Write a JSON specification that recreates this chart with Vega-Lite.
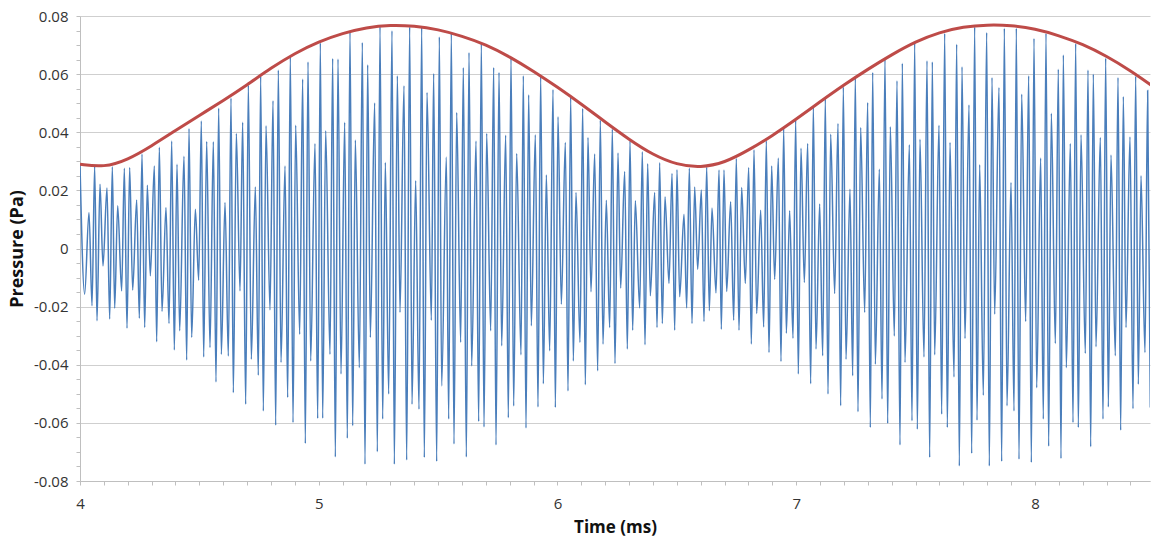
{
  "$schema": "https://vega.github.io/schema/vega-lite/v6.json",
  "width": 1070,
  "height": 465,
  "autosize": {"type": "none"},
  "padding": {"left": 80, "top": 16, "right": 1, "bottom": 61},
  "background": "white",
  "config": {
    "view": {"stroke": null},
    "font": "Open Sans"
  },
  "datasets": {
    "signal": [
      {"t":4.0,"p":0.029},{"t":4.0195,"p":-0.0157},{"t":4.0377,"p":0.0124},{"t":4.0503,"p":-0.0197},{"t":4.0614,"p":0.0284},{"t":4.0712,"p":-0.0249},{"t":4.0838,"p":0.0221},{"t":4.0963,"p":-0.006},{"t":4.1131,"p":0.0208},{"t":4.1243,"p":-0.0243},{"t":4.1354,"p":0.0281},{"t":4.1452,"p":-0.0206},{"t":4.1578,"p":0.0147},{"t":4.1745,"p":-0.0146},{"t":4.1857,"p":0.0276},{"t":4.1969,"p":-0.0274},{"t":4.208,"p":0.0279},{"t":4.2206,"p":-0.0143},{"t":4.2374,"p":0.0167},{"t":4.2485,"p":-0.024},{"t":4.2597,"p":0.0325},{"t":4.2709,"p":-0.0272},{"t":4.282,"p":0.0218},{"t":4.2946,"p":-0.0094},{"t":4.3114,"p":0.0284},{"t":4.3211,"p":-0.0321},{"t":4.3323,"p":0.0348},{"t":4.3435,"p":-0.0217},{"t":4.3602,"p":0.0141},{"t":4.3728,"p":-0.0258},{"t":4.384,"p":0.037},{"t":4.3951,"p":-0.0349},{"t":4.4063,"p":0.029},{"t":4.4175,"p":-0.0283},{"t":4.4356,"p":0.0317},{"t":4.4468,"p":-0.0384},{"t":4.4566,"p":0.0413},{"t":4.4677,"p":-0.0306},{"t":4.4831,"p":0.0135},{"t":4.4971,"p":-0.0109},{"t":4.5082,"p":0.0439},{"t":4.518,"p":-0.0373},{"t":4.5306,"p":0.0368},{"t":4.5445,"p":-0.0341},{"t":4.5585,"p":0.0367},{"t":4.5696,"p":-0.0459},{"t":4.5808,"p":0.0483},{"t":4.592,"p":-0.0364},{"t":4.6074,"p":0.0158},{"t":4.6213,"p":-0.037},{"t":4.6325,"p":0.0518},{"t":4.6422,"p":-0.0496},{"t":4.6548,"p":0.0396},{"t":4.6702,"p":-0.0146},
      {"t":4.6813,"p":0.0434},{"t":4.6939,"p":-0.0536},{"t":4.7051,"p":0.0562},{"t":4.7176,"p":-0.0381},{"t":4.7344,"p":0.0212},{"t":4.7469,"p":-0.0436},{"t":4.7567,"p":0.0593},{"t":4.7679,"p":-0.0559},{"t":4.7791,"p":0.0422},{"t":4.7958,"p":-0.0212},{"t":4.8084,"p":0.0508},{"t":4.8196,"p":-0.0608},{"t":4.8307,"p":0.0614},{"t":4.8419,"p":-0.0392},{"t":4.8587,"p":0.0284},{"t":4.8698,"p":-0.0513},{"t":4.881,"p":0.0664},{"t":4.8922,"p":-0.0599},{"t":4.9033,"p":0.0424},{"t":4.9201,"p":-0.0295},{"t":4.9326,"p":0.0583},{"t":4.9438,"p":-0.0671},{"t":4.955,"p":0.0642},{"t":4.9662,"p":-0.0387},{"t":4.9843,"p":0.0361},{"t":4.9955,"p":-0.0585},{"t":5.0067,"p":0.0708},{"t":5.0164,"p":-0.0584},{"t":5.029,"p":0.0405},{"t":5.0471,"p":-0.0364},{"t":5.0583,"p":0.0654},{"t":5.0695,"p":-0.0717},{"t":5.0806,"p":0.0652},{"t":5.0932,"p":-0.0432},{"t":5.1086,"p":0.0434},{"t":5.1197,"p":-0.0653},{"t":5.1309,"p":0.0748},{"t":5.1421,"p":-0.061},{"t":5.1533,"p":0.0373},{"t":5.17,"p":-0.041},{"t":5.1826,"p":0.0709},{"t":5.1937,"p":-0.0742},{"t":5.2049,"p":0.0632},{"t":5.2161,"p":-0.0306},{"t":5.2342,"p":0.0501},{"t":5.2454,"p":-0.0699},{"t":5.2566,"p":0.0764},{"t":5.2677,"p":-0.0587},{"t":5.2789,"p":0.0296},{"t":5.2929,"p":-0.0501},{"t":5.3068,"p":0.0749},{"t":5.3166,"p":-0.0742},{"t":5.3292,"p":0.0594},
      {"t":5.3403,"p":-0.022},{"t":5.3571,"p":0.056},{"t":5.3682,"p":-0.0728},{"t":5.3808,"p":0.0763},{"t":5.3906,"p":-0.0536},{"t":5.4059,"p":0.0233},{"t":5.4199,"p":-0.0553},{"t":5.4311,"p":0.0763},{"t":5.4422,"p":-0.0719},{"t":5.4534,"p":0.0537},{"t":5.4716,"p":-0.0247},{"t":5.4813,"p":0.0602},{"t":5.4939,"p":-0.0733},{"t":5.5051,"p":0.0728},{"t":5.5148,"p":-0.0473},{"t":5.5344,"p":0.0315},{"t":5.5442,"p":-0.0587},{"t":5.5553,"p":0.0743},{"t":5.5665,"p":-0.0673},{"t":5.5777,"p":0.0468},{"t":5.5944,"p":-0.0323},{"t":5.6056,"p":0.0623},{"t":5.6182,"p":-0.0717},{"t":5.6293,"p":0.0674},{"t":5.6405,"p":-0.0404},{"t":5.6587,"p":0.037},{"t":5.6698,"p":-0.0595},{"t":5.681,"p":0.0708},{"t":5.6922,"p":-0.0614},{"t":5.7033,"p":0.0396},{"t":5.7201,"p":-0.0283},{"t":5.7327,"p":0.0623},{"t":5.7424,"p":-0.0676},{"t":5.755,"p":0.0606},{"t":5.7662,"p":-0.0335},{"t":5.7829,"p":0.039},{"t":5.7941,"p":-0.0582},{"t":5.8053,"p":0.0658},{"t":5.8164,"p":-0.0542},{"t":5.829,"p":0.0327},{"t":5.8471,"p":-0.0366},{"t":5.8569,"p":0.0594},{"t":5.8681,"p":-0.0618},{"t":5.8792,"p":0.0529},{"t":5.8904,"p":-0.0266},{"t":5.9072,"p":0.0391},{"t":5.9183,"p":-0.0545},{"t":5.9295,"p":0.0594},{"t":5.9407,"p":-0.0465},{"t":5.9533,"p":0.0253},{"t":5.9672,"p":-0.0352},{"t":5.9812,"p":0.0547},{"t":5.991,"p":-0.0547},{"t":6.0021,"p":0.0453},
      {"t":6.0161,"p":-0.0192},{"t":6.0328,"p":0.0365},{"t":6.044,"p":-0.049},{"t":6.0552,"p":0.052},{"t":6.0663,"p":-0.0387},{"t":6.0775,"p":0.0193},{"t":6.0942,"p":-0.0323},{"t":6.1054,"p":0.0482},{"t":6.1166,"p":-0.0469},{"t":6.1277,"p":0.0382},{"t":6.1403,"p":-0.0149},{"t":6.1557,"p":0.0325},{"t":6.1682,"p":-0.0421},{"t":6.1794,"p":0.0442},{"t":6.1906,"p":-0.0329},{"t":6.2045,"p":0.0166},{"t":6.2185,"p":-0.0272},{"t":6.2297,"p":0.0411},{"t":6.2408,"p":-0.0396},{"t":6.2534,"p":0.0329},{"t":6.2646,"p":-0.0136},{"t":6.2813,"p":0.0265},{"t":6.2925,"p":-0.0346},{"t":6.3037,"p":0.0371},{"t":6.3148,"p":-0.0281},{"t":6.326,"p":0.0164},{"t":6.3442,"p":-0.0205},{"t":6.3553,"p":0.0333},{"t":6.3665,"p":-0.0331},{"t":6.3777,"p":0.0292},{"t":6.3888,"p":-0.0163},{"t":6.407,"p":0.0193},{"t":6.4168,"p":-0.0272},{"t":6.4279,"p":0.0295},{"t":6.4391,"p":-0.0258},{"t":6.4503,"p":0.0178},{"t":6.467,"p":-0.012},{"t":6.4796,"p":0.0258},{"t":6.4908,"p":-0.0281},{"t":6.5005,"p":0.0271},{"t":6.5117,"p":-0.0166},{"t":6.5299,"p":0.0118},{"t":6.541,"p":-0.0205},{"t":6.5522,"p":0.0276},{"t":6.5634,"p":-0.0258},{"t":6.5745,"p":0.0212},{"t":6.5871,"p":-0.0071},{"t":6.6025,"p":0.0201},{"t":6.6136,"p":-0.0251},{"t":6.6248,"p":0.028},{"t":6.636,"p":-0.0214},{"t":6.6471,"p":0.0139},{"t":6.6639,"p":-0.0153},{"t":6.6765,"p":0.027},
      {"t":6.6862,"p":-0.0278},{"t":6.6974,"p":0.027},{"t":6.7086,"p":-0.0148},{"t":6.7253,"p":0.0161},{"t":6.7379,"p":-0.0247},{"t":6.749,"p":0.031},{"t":6.7602,"p":-0.0281},{"t":6.7714,"p":0.021},{"t":6.7867,"p":-0.012},{"t":6.8007,"p":0.0279},{"t":6.8119,"p":-0.0329},{"t":6.823,"p":0.034},{"t":6.8342,"p":-0.0224},{"t":6.851,"p":0.0132},{"t":6.8635,"p":-0.027},{"t":6.8747,"p":0.0371},{"t":6.8859,"p":-0.0358},{"t":6.897,"p":0.0284},{"t":6.9096,"p":-0.0106},{"t":6.925,"p":0.0311},{"t":6.9361,"p":-0.0389},{"t":6.9473,"p":0.0413},{"t":6.9585,"p":-0.0292},{"t":6.9724,"p":0.013},{"t":6.9864,"p":-0.0309},{"t":6.9976,"p":0.0442},{"t":7.0087,"p":-0.0432},{"t":7.0199,"p":0.0345},{"t":7.0339,"p":-0.0117},{"t":7.0478,"p":0.0361},{"t":7.0604,"p":-0.0465},{"t":7.0716,"p":0.0491},{"t":7.0827,"p":-0.0346},{"t":7.0981,"p":0.0153},{"t":7.1107,"p":-0.0369},{"t":7.1218,"p":0.0516},{"t":7.133,"p":-0.0501},{"t":7.1442,"p":0.0393},{"t":7.1609,"p":-0.0155},{"t":7.1749,"p":0.043},{"t":7.186,"p":-0.0541},{"t":7.1972,"p":0.0556},{"t":7.2084,"p":-0.0381},{"t":7.2251,"p":0.0204},{"t":7.2363,"p":-0.0438},{"t":7.2475,"p":0.0592},{"t":7.2586,"p":-0.0562},{"t":7.2698,"p":0.0416},{"t":7.2866,"p":-0.022},{"t":7.2991,"p":0.0502},{"t":7.3103,"p":-0.0616},{"t":7.3201,"p":0.0606},{"t":7.3313,"p":-0.0398},{"t":7.348,"p":0.0273},
      {"t":7.3592,"p":-0.0518},{"t":7.3717,"p":0.0655},{"t":7.3829,"p":-0.0602},{"t":7.3941,"p":0.0419},{"t":7.4108,"p":-0.0301},{"t":7.422,"p":0.0577},{"t":7.4346,"p":-0.0676},{"t":7.4443,"p":0.0637},{"t":7.4555,"p":-0.0392},{"t":7.4737,"p":0.0357},{"t":7.4848,"p":-0.0593},{"t":7.496,"p":0.071},{"t":7.5072,"p":-0.0622},{"t":7.5183,"p":0.0376},{"t":7.5351,"p":-0.0373},{"t":7.5477,"p":0.0646},{"t":7.5588,"p":-0.0719},{"t":7.57,"p":0.0642},{"t":7.5798,"p":-0.0366},{"t":7.5979,"p":0.0424},{"t":7.6091,"p":-0.057},{"t":7.6217,"p":0.074},{"t":7.6328,"p":-0.0616},{"t":7.644,"p":0.0365},{"t":7.6608,"p":-0.0442},{"t":7.6719,"p":0.0703},{"t":7.6831,"p":-0.0748},{"t":7.6943,"p":0.0625},{"t":7.7068,"p":-0.031},{"t":7.7236,"p":0.0494},{"t":7.7348,"p":-0.0705},{"t":7.7473,"p":0.0763},{"t":7.7571,"p":-0.0591},{"t":7.7682,"p":0.0288},{"t":7.7836,"p":-0.0505},{"t":7.7976,"p":0.0743},{"t":7.8087,"p":-0.0748},{"t":7.8199,"p":0.0588},{"t":7.8311,"p":-0.0226},{"t":7.8492,"p":0.0554},{"t":7.8604,"p":-0.0733},{"t":7.8716,"p":0.0758},{"t":7.8827,"p":-0.0541},{"t":7.8995,"p":0.0227},{"t":7.9121,"p":-0.0559},{"t":7.9218,"p":0.0758},{"t":7.933,"p":-0.0725},{"t":7.9442,"p":0.0531},{"t":7.9609,"p":-0.0251},{"t":7.9735,"p":0.0594},{"t":7.9847,"p":-0.0736},{"t":7.9958,"p":0.0723},{"t":8.007,"p":-0.0479},
      {"t":8.0237,"p":0.0311},{"t":8.0349,"p":-0.0587},{"t":8.0461,"p":0.074},{"t":8.0572,"p":-0.068},{"t":8.0684,"p":0.0465},{"t":8.0852,"p":-0.0327},{"t":8.0977,"p":0.0617},{"t":8.1089,"p":-0.0723},{"t":8.1187,"p":0.0666},{"t":8.1312,"p":-0.041},{"t":8.148,"p":0.0361},{"t":8.1592,"p":-0.0599},{"t":8.1703,"p":0.0705},{"t":8.1815,"p":-0.0616},{"t":8.1927,"p":0.0391},{"t":8.2108,"p":-0.0361},{"t":8.222,"p":0.0614},{"t":8.2332,"p":-0.0682},{"t":8.2443,"p":0.06},{"t":8.2555,"p":-0.0338},{"t":8.2737,"p":0.0382},{"t":8.2848,"p":-0.0587},{"t":8.296,"p":0.0655},{"t":8.3072,"p":-0.0545},{"t":8.3183,"p":0.0322},{"t":8.3365,"p":-0.0369},{"t":8.3477,"p":0.0588},{"t":8.3588,"p":-0.0625},{"t":8.37,"p":0.0523},{"t":8.3812,"p":-0.0272},{"t":8.3979,"p":0.0384},{"t":8.4105,"p":-0.0551},{"t":8.4216,"p":0.0593},{"t":8.4328,"p":-0.0467},{"t":8.444,"p":0.025},{"t":8.4607,"p":-0.0358},{"t":8.4719,"p":0.0544},{"t":8.4831,"p":-0.0547}
    ],
    "envelope": [
      {"t":4.0,"p":0.029},{"t":4.1,"p":0.0279},{"t":4.2,"p":0.0305},{"t":4.3,"p":0.0353},{"t":4.4,"p":0.0406},{"t":4.5,"p":0.0458},{"t":4.6,"p":0.0509},{"t":4.7,"p":0.0563},{"t":4.8,"p":0.0621},{"t":4.9,"p":0.0672},{"t":5.0,"p":0.0712},{"t":5.1,"p":0.0741},{"t":5.2,"p":0.0761},{"t":5.3,"p":0.0769},{"t":5.4,"p":0.0766},{"t":5.5,"p":0.0754},{"t":5.6,"p":0.0731},{"t":5.7,"p":0.0702},{"t":5.8,"p":0.066},{"t":5.9,"p":0.061},{"t":6.0,"p":0.0555},{"t":6.1,"p":0.0497},{"t":6.2,"p":0.0435},{"t":6.3,"p":0.0375},{"t":6.4,"p":0.0322},{"t":6.5,"p":0.0288},{"t":6.6,"p":0.0278},{"t":6.7,"p":0.0295},{"t":6.8,"p":0.0338},{"t":6.9,"p":0.0388},{"t":7.0,"p":0.0445},{"t":7.1,"p":0.0505},{"t":7.2,"p":0.0563},{"t":7.3,"p":0.0617},{"t":7.4,"p":0.0667},{"t":7.5,"p":0.0712},{"t":7.6,"p":0.0744},{"t":7.7,"p":0.0763},{"t":7.8,"p":0.077},{"t":7.9,"p":0.0768},{"t":8.0,"p":0.0756},{"t":8.1,"p":0.0733},{"t":8.2,"p":0.0703},{"t":8.3,"p":0.0662},{"t":8.4,"p":0.0612},{"t":8.49,"p":0.056}
    ]
  },
  "encoding": {
    "x": {
      "field": "t", "type": "quantitative",
      "scale": {"domain": [4, 8.4817], "nice": false, "zero": false},
      "axis": {
        "title": "Time (ms)",
        "values": [4,4.1,4.2,4.3,4.4,4.5,4.6,4.7,4.8,4.9,5,5.1,5.2,5.3,5.4,5.5,5.6,5.7,5.8,5.9,6,6.1,6.2,6.3,6.4,6.5,6.6,6.7,6.8,6.9,7,7.1,7.2,7.3,7.4,7.5,7.6,7.7,7.8,7.9,8,8.1,8.2,8.3,8.4],
        "labelExpr": "abs(datum.value - round(datum.value)) < 0.001 ? format(datum.value, 'd') : ''",
        "grid": false,
        "labelFlush": false,
        "labelOverlap": false,
        "domainColor": "#bfbfbf",
        "tickColor": "#bfbfbf",
        "tickSize": 4,
        "labelPadding": 11,
        "labelFont": "Open Sans",
        "labelFontSize": 15,
        "labelColor": "#333333",
        "titleFont": "Open Sans",
        "titleFontSize": 17,
        "titleFontWeight": "bold",
        "titleColor": "#111111",
        "titlePadding": 8
      }
    },
    "y": {
      "field": "p", "type": "quantitative",
      "scale": {"domain": [-0.08, 0.08], "nice": false, "zero": false},
      "axis": {
        "title": "Pressure (Pa)",
        "values": [-0.08,-0.075,-0.07,-0.065,-0.06,-0.055,-0.05,-0.045,-0.04,-0.035,-0.03,-0.025,-0.02,-0.015,-0.01,-0.005,0,0.005,0.01,0.015,0.02,0.025,0.03,0.035,0.04,0.045,0.05,0.055,0.06,0.065,0.07,0.075,0.08],
        "labelExpr": "abs(datum.value*50 - round(datum.value*50)) < 0.001 ? (abs(datum.value) < 0.0001 ? '0' : (datum.value < 0 ? '-' : '') + format(abs(datum.value), '.2f')) : ''",
        "grid": true,
        "gridColor": "#cfcfcf",
        "gridWidth": 1,
        "gridOpacity": {"condition": {"test": "abs(datum.value*50 - round(datum.value*50)) < 0.001", "value": 1}, "value": 0},
        "labelFlush": false,
        "labelOverlap": false,
        "domainColor": "#bfbfbf",
        "tickColor": "#bfbfbf",
        "tickSize": 4,
        "labelPadding": 8,
        "labelFont": "Open Sans",
        "labelFontSize": 15,
        "labelColor": "#333333",
        "titleFont": "Open Sans",
        "titleFontSize": 18,
        "titleFontWeight": "bold",
        "titleColor": "#111111",
        "titlePadding": 7
      }
    }
  },
  "layer": [
    {
      "data": {"name": "signal"},
      "mark": {"type": "line", "color": "#4a7ebb", "strokeWidth": 1.5, "interpolate": "monotone", "clip": true}
    },
    {
      "data": {"name": "envelope"},
      "mark": {"type": "line", "color": "#be4b48", "strokeWidth": 3, "interpolate": "basis", "clip": true}
    }
  ]
}
